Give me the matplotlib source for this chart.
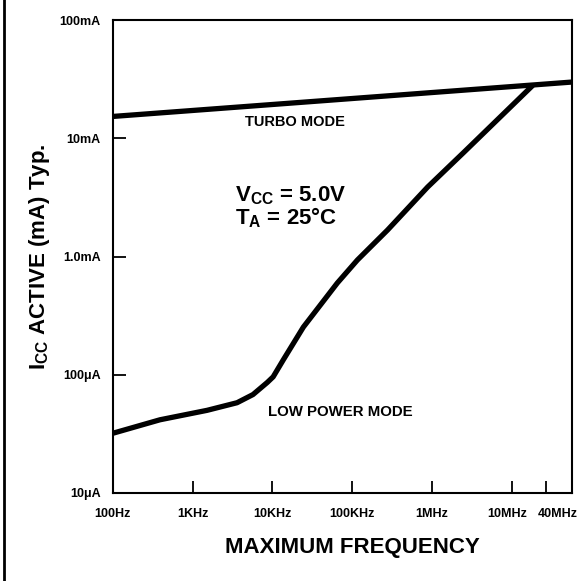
import matplotlib
matplotlib.use('Agg')
import matplotlib.pyplot as plt
import matplotlib.transforms as mtransforms
from matplotlib.lines import Line2D

plt.rcParams['font.family'] = ['Liberation Sans', 'DejaVu Sans']
plt.rcParams['font.weight'] = 'bold'
plt.rcParams['mathtext.default'] = 'regular'

# frequency in Hz, current in A
turbo_freq = [100, 5.7e7]
turbo_icc = [15.3e-3, 29.9e-3]

low_freq = [100, 389, 1514, 3600, 5700, 8600, 10200, 13700, 24400, 65000,
            116000, 277000, 881000, 2.5e6, 1.73e7]
low_icc = [32e-6, 41.6e-6, 50e-6, 58e-6, 68e-6, 86e-6, 96e-6, 134e-6,
           253e-6, 597e-6, 934e-6, 1.675e-3, 3.87e-3, 7.6e-3, 27e-3]

x_ticks = [100, 1e3, 1e4, 1e5, 1e6, 1e7, 2.67e7]
x_labels = ['100Hz', '1KHz', '10KHz', '100KHz', '1MHz', '10MHz', '40MHz']
y_ticks = [1e-5, 1e-4, 1e-3, 1e-2, 1e-1]
y_labels = ['10\u03bcA', '100\u03bcA', '1.0mA', '10mA', '100mA']

fig = plt.figure(figsize=(5.88, 5.81), dpi=100)
ax = fig.add_axes([0.192, 0.1515, 0.781, 0.814])

ax.plot(turbo_freq, turbo_icc, color='black', lw=3.8, solid_capstyle='butt')
ax.plot(low_freq, low_icc, color='black', lw=3.8, solid_joinstyle='round')

ax.set_xscale('log')
ax.set_yscale('log')
ax.set_xlim(100, 5.7e7)
ax.set_ylim(1e-5, 1e-1)
ax.minorticks_off()
ax.set_xticks(x_ticks)
ax.set_xticklabels(x_labels)
ax.set_yticks(y_ticks)
ax.set_yticklabels(y_labels)
ax.tick_params(direction='in', length=9, width=1.3, labelsize=9)
ax.tick_params(axis='y', pad=9)
ax.tick_params(axis='x', pad=11)
for s in ax.spines.values():
    s.set_linewidth(1.5)

# nudge the last two x labels apart like the original
xl = ax.get_xticklabels()
xl[-2].set_transform(xl[-2].get_transform() + mtransforms.ScaledTranslation(-5 / 100, 0, fig.dpi_scale_trans))
xl[-1].set_transform(xl[-1].get_transform() + mtransforms.ScaledTranslation(12 / 100, 0, fig.dpi_scale_trans))

ax.set_xlabel('MAXIMUM FREQUENCY', fontsize=16, fontweight='bold', labelpad=12)
ax.xaxis.label.set_x(0.521)
ax.set_ylabel('I$_{CC}$ ACTIVE (mA) Typ.', fontsize=16, fontweight='bold', labelpad=5)

ax.text(0.397, 0.784, 'TURBO MODE', transform=ax.transAxes, ha='center', va='center', fontsize=10.5)
ax.text(0.495, 0.172, 'LOW POWER MODE', transform=ax.transAxes, ha='center', va='center', fontsize=10.8)
ax.text(0.265, 0.605, 'V$_{CC}$ = 5.0V\nT$_A$ = 25\u00b0C', transform=ax.transAxes,
        ha='left', va='center', fontsize=16, linespacing=0.9)

fig.add_artist(Line2D([0.007, 0.007], [0, 1], color='black', lw=2, transform=fig.transFigure))

fig.savefig('out.png', dpi=100, facecolor='white')
